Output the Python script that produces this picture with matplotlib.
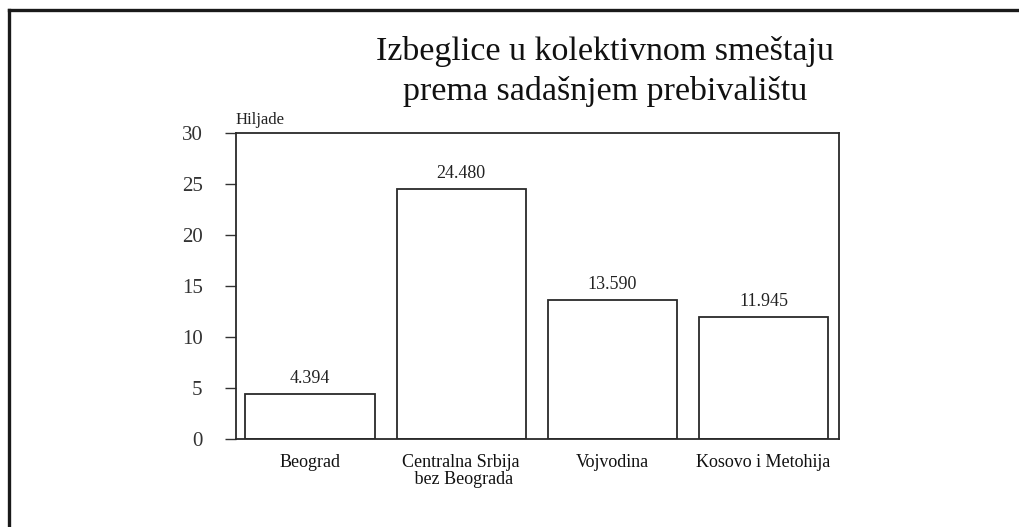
import matplotlib
matplotlib.use("Agg")
import matplotlib.pyplot as plt
from matplotlib.lines import Line2D

plt.rcParams['font.family'] = ['Liberation Serif', 'DejaVu Serif']

categories = ["Beograd", "Centralna Srbija\n bez Beograda", "Vojvodina", "Kosovo i Metohija"]
values = [4.394, 24.480, 13.590, 11.945]
value_labels = ["4.394", "24.480", "13.590", "11.945"]
yticks = [0, 5, 10, 15, 20, 25, 30]
title_lines = ["Izbeglice u kolektivnom smeštaju", "prema sadašnjem prebivalištu"]
unit_label = "Hiljade"

W, H = 1019, 527
fig = plt.figure(figsize=(W / 100, H / 100), dpi=100)
fig.patch.set_facecolor("white")

ax = fig.add_axes([236 / W, 1 - 439 / H, (839 - 236) / W, (439 - 133) / H])
x = list(range(len(categories)))
bars = ax.bar(x, values, width=0.855, facecolor="white", edgecolor="#2a2a2a", linewidth=1.3)
for xi, v, lab in zip(x, values, value_labels):
    ax.annotate(lab, (xi, v), xytext=(0, 5), textcoords="offset points",
                ha="center", va="bottom", fontsize=13, color="#222222")

ax.set_xlim(-0.49, 3.5)
ax.set_ylim(0, 30)
ax.set_yticks(yticks)
ax.set_yticklabels([str(t) for t in yticks], fontsize=15, color="#333333")
ax.tick_params(axis="y", direction="out", length=8, width=1.0, pad=16, color="#333333")
ax.set_xticks(x)
ax.set_xticklabels(categories, fontsize=13, color="#111111", linespacing=1.0)
ax.tick_params(axis="x", length=0, pad=11)
for s in ax.spines.values():
    s.set_linewidth(1.3)
    s.set_color("#2a2a2a")

ax.text(0, 1.015, unit_label, transform=ax.transAxes, ha="left", va="bottom",
        fontsize=12, color="#222222")

cx = 605 / W
fig.text(cx, 1 - 60 / H, title_lines[0], ha="center", va="baseline", fontsize=24.5, color="#111111")
fig.text(cx, 1 - 100 / H, title_lines[1], ha="center", va="baseline", fontsize=24.5, color="#111111")

# outer frame (top and left edges)
fig.add_artist(Line2D([9 / W, 1.0], [1 - 10 / H, 1 - 10 / H], transform=fig.transFigure,
                      color="#1a1a1a", linewidth=2.4))
fig.add_artist(Line2D([9 / W, 9 / W], [1 - 10 / H, 0.0], transform=fig.transFigure,
                      color="#1a1a1a", linewidth=2.4))

fig.savefig("out.png", dpi=100)
